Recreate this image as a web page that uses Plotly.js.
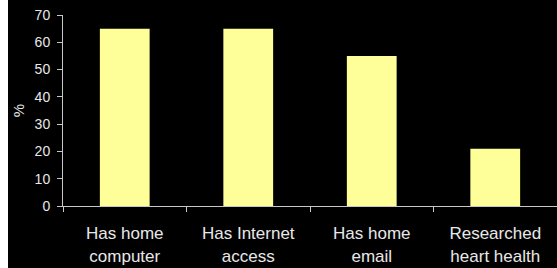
<!DOCTYPE html>
<html><head><meta charset="utf-8">
<script src="https://cdn.plot.ly/plotly-3.0.1.min.js"></script>
<style>html,body{margin:0;padding:0;background:#fff;}#chart{position:absolute;left:8px;top:0;width:549px;height:268px;}</style>
</head><body><div id="chart"></div>
<script>
const categories = ["Has home<br>computer", "Has Internet<br>access", "Has home<br>email", "Researched<br>heart health"];
const values = [65, 65, 55, 21];
const yTicks = [0, 10, 20, 30, 40, 50, 60, 70];

Plotly.newPlot('chart', [{
  type: 'bar', x: categories, y: values,
  marker: {color: '#FFFF99', line: {width: 0}},
  hoverinfo: 'none'
}], {
  width: 549, height: 268,
  margin: {l: 55, r: 0, t: 15, b: 62},
  paper_bgcolor: '#000', plot_bgcolor: '#000',
  bargap: 0.597,
  showlegend: false,
  font: {family: 'Liberation Sans, Arial, sans-serif', color: '#e8e8e8'},
  xaxis: {
    type: 'category', tickson: 'boundaries', ticks: 'outside', ticklen: 5, tickcolor: '#c8c8c8',
    showline: true, linecolor: '#c8c8c8', linewidth: 1, showgrid: false, zeroline: false,
    tickfont: {size: 17, color: '#e8e8e8'}, ticklabelstandoff: 12, fixedrange: true
  },
  yaxis: {
    range: [0, 70], tickvals: yTicks, ticks: 'outside', ticklen: 5, tickcolor: '#c8c8c8',
    showline: true, linecolor: '#c8c8c8', linewidth: 1, showgrid: false, zeroline: false,
    tickfont: {size: 14, color: '#e8e8e8'}, ticklabelstandoff: 4,
    title: {text: '%', font: {size: 15, color: '#e8e8e8'}, standoff: 6}, fixedrange: true
  }
}, {displayModeBar: false, staticPlot: true});
</script></body></html>
